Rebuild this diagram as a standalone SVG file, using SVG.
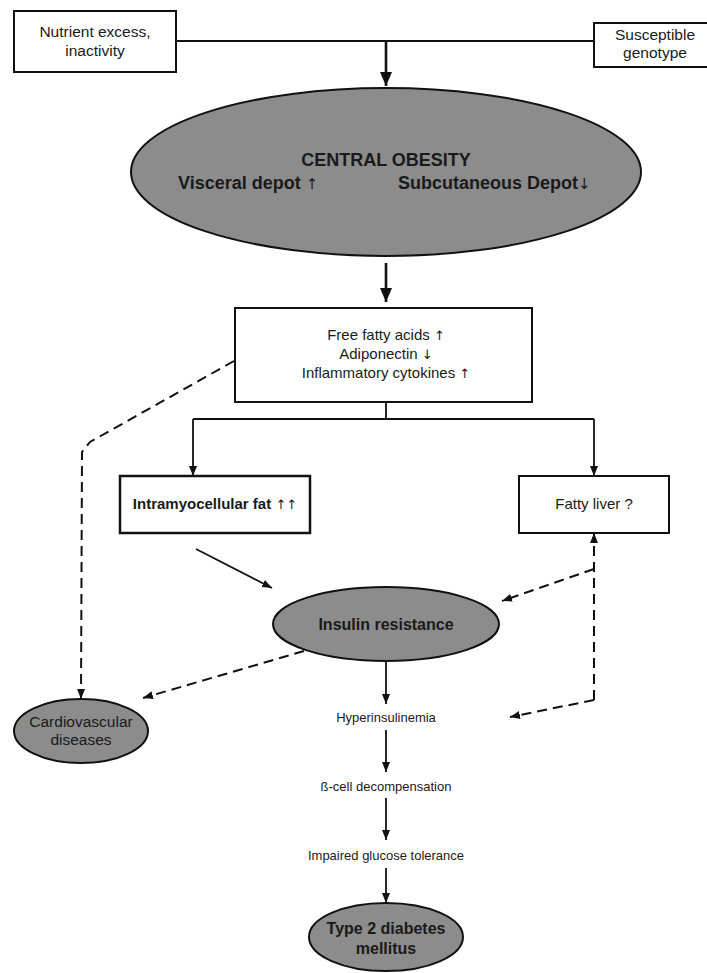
<svg xmlns="http://www.w3.org/2000/svg" width="707" height="973" viewBox="0 0 707 973">
<defs>
<style>
.box{fill:#fff;stroke:#111;stroke-width:2}
.ell{fill:#8c8c8c;stroke:#111;stroke-width:2}
.t{font-family:"Liberation Sans",Arial,sans-serif;fill:#1a1a1a;text-anchor:middle}
.s{text-anchor:start}
.b{font-weight:bold}
.ar{font-family:"DejaVu Sans",sans-serif;font-weight:normal;fill:#1a1a1a}
.ln{fill:none;stroke:#111;stroke-width:1.8}
.thick{fill:none;stroke:#111;stroke-width:2.6}
.dash{fill:none;stroke:#111;stroke-width:2;stroke-dasharray:10 6}
</style>
<marker id="ah" markerUnits="userSpaceOnUse" markerWidth="10" markerHeight="8" refX="10" refY="4" orient="auto"><path d="M0,0 L10,4 L0,8 z" fill="#111"/></marker>
<marker id="big" markerUnits="userSpaceOnUse" markerWidth="14" markerHeight="12" refX="14" refY="6" orient="auto"><path d="M0,0 L14,6 L0,12 z" fill="#111"/></marker>
</defs>
<rect width="707" height="973" fill="#fff"/>
<g id="connectors">
<path class="ln" d="M176,41 L594,41"/>
<path class="thick" d="M386,41 L386,86" marker-end="url(#big)"/>
<path class="thick" d="M386,263 L386,302" marker-end="url(#big)"/>
<path class="ln" d="M386,402 L386,419 M193,419 L594,419"/>
<path class="ln" d="M193,419 L193,476" marker-end="url(#ah)"/>
<path class="ln" d="M594,419 L594,476" marker-end="url(#ah)"/>
<path class="ln" d="M196,549 L272,588" marker-end="url(#ah)"/>
<path class="dash" d="M234,361 L90,442 L82,452 L81,699" marker-end="url(#ah)"/>
<path class="dash" d="M304,651 L143,698" marker-end="url(#ah)"/>
<path class="dash" d="M594,700 L594,533" marker-end="url(#ah)"/>
<path class="dash" d="M594,569 L502,601" marker-end="url(#ah)"/>
<path class="dash" d="M594,700 L510,717" marker-end="url(#ah)"/>
<path class="ln" d="M386,661 L386,704" marker-end="url(#ah)"/>
<path class="ln" d="M386,730 L386,772" marker-end="url(#ah)"/>
<path class="ln" d="M386,798 L386,840" marker-end="url(#ah)"/>
<path class="ln" d="M386,868 L386,903" marker-end="url(#ah)"/>
</g>
<g id="nutrient">
<rect class="box" x="14" y="11" width="162" height="61"/>
<text class="t" x="95" y="37" font-size="15.5">Nutrient excess,</text>
<text class="t" x="95" y="56" font-size="15.5">inactivity</text>
</g>
<g id="genotype">
<rect class="box" x="594" y="23" width="116" height="44"/>
<text class="t" x="655" y="40" font-size="15.5">Susceptible</text>
<text class="t" x="655" y="58" font-size="15.5">genotype</text>
</g>
<g id="obesity">
<ellipse class="ell" cx="386" cy="172" rx="255" ry="84"/>
<text class="t b" x="386" y="166" font-size="18">CENTRAL OBESITY</text>
<text class="t b s" x="178" y="189" font-size="18">Visceral depot <tspan class="ar" font-size="15">↑</tspan></text>
<text class="t b s" x="398" y="189" font-size="18">Subcutaneous Depot<tspan class="ar" font-size="15">↓</tspan></text>
</g>
<g id="mediators">
<rect class="box" x="235" y="308" width="297" height="94"/>
<text class="t" x="386" y="340" font-size="15">Free fatty acids <tspan class="ar" font-size="13">↑</tspan></text>
<text class="t" x="386" y="359" font-size="15">Adiponectin <tspan class="ar" font-size="13">↓</tspan></text>
<text class="t" x="386" y="378" font-size="15">Inflammatory cytokines <tspan class="ar" font-size="13">↑</tspan></text>
</g>
<g id="intramyo">
<rect class="box" x="120" y="476" width="190" height="57" style="stroke-width:2.5"/>
<text class="t b" x="215" y="509" font-size="15">Intramyocellular fat <tspan class="ar" font-size="13">↑↑</tspan></text>
</g>
<g id="fattyliver">
<rect class="box" x="519" y="476" width="150" height="57"/>
<text class="t" x="594" y="509" font-size="15">Fatty liver ?</text>
</g>
<g id="insulin">
<ellipse class="ell" cx="386" cy="624" rx="113" ry="37"/>
<text class="t b" x="386" y="630" font-size="16">Insulin resistance</text>
</g>
<g id="cardio">
<ellipse class="ell" cx="81" cy="731" rx="67" ry="32"/>
<text class="t" x="81" y="727" font-size="15.5">Cardiovascular</text>
<text class="t" x="81" y="745" font-size="15.5">diseases</text>
</g>
<g id="hyper"><text class="t" x="386" y="722" font-size="13">Hyperinsulinemia</text></g>
<g id="betacell"><text class="t" x="386" y="791" font-size="13">ß-cell decompensation</text></g>
<g id="igt"><text class="t" x="386" y="860" font-size="13">Impaired glucose tolerance</text></g>
<g id="t2dm">
<ellipse class="ell" cx="386" cy="937" rx="77" ry="34"/>
<text class="t b" x="386" y="934" font-size="16">Type 2 diabetes</text>
<text class="t b" x="386" y="954" font-size="16">mellitus</text>
</g>
</svg>
